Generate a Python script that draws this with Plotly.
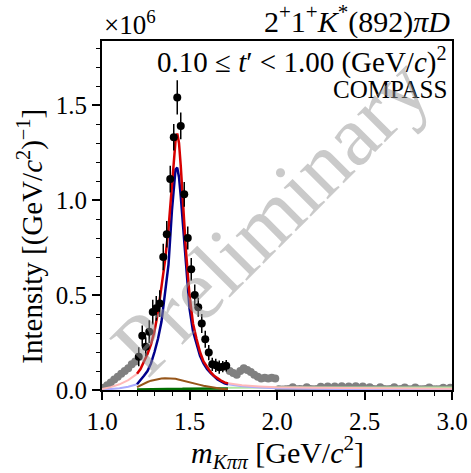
import plotly.graph_objects as go

# ---------------- data (units of 10^6) ----------------
mass_fit = [1.21, 1.23, 1.25, 1.27, 1.29, 1.31, 1.33, 1.35, 1.37, 1.39, 1.41, 1.43, 1.45,
            1.47, 1.49, 1.51, 1.53, 1.55, 1.57, 1.59, 1.61, 1.63, 1.65, 1.67, 1.69, 1.71]
intensity_fit = [0.175, 0.285, 0.228, 0.307, 0.41, 0.43, 0.455, 0.70, 0.82, 1.11, 1.33, 1.54, 1.39,
                 1.03, 0.80, 0.635, 0.50, 0.435, 0.35, 0.267, 0.197, 0.135, 0.13, 0.12, 0.123, 0.128]
error_fit = [0.05, 0.055, 0.05, 0.06, 0.065, 0.065, 0.07, 0.07, 0.07, 0.07, 0.07, 0.09, 0.07,
             0.065, 0.06, 0.06, 0.055, 0.05, 0.05, 0.045, 0.04, 0.035, 0.035, 0.035, 0.03, 0.03]

mass_low = [1.01, 1.03, 1.05, 1.07, 1.09, 1.11, 1.13, 1.15, 1.17, 1.19]
intensity_low = [0.012, 0.025, 0.04, 0.055, 0.07, 0.085, 0.10, 0.115, 0.135, 0.15]

mass_high = [1.73, 1.75, 1.77, 1.79, 1.81, 1.83, 1.85, 1.87, 1.89, 1.91, 1.93, 1.95, 1.97, 1.99,
             2.01, 2.03, 2.05, 2.07, 2.09, 2.11, 2.13, 2.15, 2.17, 2.19, 2.21, 2.23, 2.25, 2.27,
             2.29, 2.31, 2.33, 2.35, 2.37, 2.39, 2.41, 2.43, 2.45, 2.47, 2.49, 2.51, 2.53, 2.55,
             2.57, 2.59, 2.61, 2.63, 2.65, 2.67, 2.69, 2.71, 2.73, 2.75, 2.77, 2.79, 2.81, 2.83,
             2.85, 2.87, 2.89, 2.91, 2.93, 2.95, 2.97, 2.99]
intensity_high = [0.10, 0.09, 0.08, 0.10, 0.115, 0.105, 0.095, 0.08, 0.07, 0.06, 0.065, 0.06, 0.065, 0.06,
                  0.004, 0.003, 0.004, 0.005, 0.014, 0.004, 0.005, 0.004, 0.015, 0.005, 0.004, 0.005,
                  0.017, 0.006, 0.018, 0.006, 0.018, 0.007, 0.02, 0.006, 0.019, 0.007, 0.02, 0.006,
                  0.019, 0.006, 0.015, 0.005, 0.004, 0.014, 0.005, 0.004, 0.005, 0.014, 0.004, 0.005,
                  0.013, 0.004, 0.004, 0.013, 0.004, 0.004, 0.005, 0.013, 0.004, 0.004, 0.004, 0.012,
                  0.004, 0.012]

# model curves
curve_mass = [1.20, 1.22, 1.24, 1.26, 1.28, 1.30, 1.32, 1.34, 1.36, 1.38, 1.40, 1.41, 1.42, 1.43,
              1.44, 1.45, 1.46, 1.48, 1.50, 1.52, 1.54, 1.56, 1.58, 1.60, 1.62, 1.64, 1.66, 1.68,
              1.70, 1.72]
total_fit = [0.085, 0.11, 0.15, 0.19, 0.24, 0.31, 0.41, 0.54, 0.68, 0.85, 1.08, 1.20, 1.31, 1.35,
             1.30, 1.18, 1.02, 0.73, 0.50, 0.35, 0.27, 0.20, 0.15, 0.12, 0.095, 0.075, 0.06, 0.05,
             0.04, 0.035]
resonance_fit = [0.03, 0.05, 0.075, 0.10, 0.14, 0.20, 0.27, 0.36, 0.50, 0.66, 0.95, 1.08, 1.16, 1.17,
                 1.12, 1.02, 0.90, 0.62, 0.43, 0.31, 0.24, 0.18, 0.14, 0.11, 0.09, 0.07, 0.055,
                 0.045, 0.035, 0.03]
nonres_fit = [0.015, 0.025, 0.033, 0.042, 0.049, 0.054, 0.058, 0.061, 0.062, 0.062, 0.061, 0.06,
              0.059, 0.057, 0.055, 0.053, 0.051, 0.047, 0.043, 0.038, 0.033, 0.027, 0.022, 0.018,
              0.014, 0.011, 0.008, 0.006, 0.005, 0.004]
other_fit = [0.003, 0.003, 0.004, 0.004, 0.004, 0.005, 0.005, 0.005, 0.005, 0.006, 0.006, 0.006,
             0.006, 0.006, 0.006, 0.006, 0.006, 0.007, 0.007, 0.007, 0.007, 0.007, 0.008, 0.008,
             0.008, 0.008, 0.008, 0.008, 0.008, 0.008]

ext_low_mass = [1.00, 1.05, 1.10, 1.15, 1.20]
total_low = [0.005, 0.015, 0.03, 0.052, 0.085]
resonance_low = [0.001, 0.004, 0.009, 0.017, 0.03]
ext_high_mass = [1.72, 1.80, 1.90, 2.00, 2.20, 2.40, 2.60, 2.80, 3.00]
total_high = [0.035, 0.025, 0.019, 0.015, 0.012, 0.01, 0.009, 0.008, 0.007]
resonance_high = [0.03, 0.02, 0.013, 0.009, 0.006, 0.004, 0.003, 0.003, 0.002]
other_high = [0.012, 0.013, 0.013, 0.013, 0.013, 0.013, 0.013, 0.013, 0.013]

x_ticks = [1.0, 1.5, 2.0, 2.5, 3.0]
y_ticks = [0.0, 0.5, 1.0, 1.5]

SERIF = "Liberation Serif"
RED = "rgb(215,0,0)"
BLUE = "rgb(0,0,140)"
BROWN = "rgb(150,85,25)"
GREEN = "rgb(0,110,0)"

fig = go.Figure()

# grey points outside the fit range
fig.add_trace(go.Scatter(x=mass_low, y=intensity_low, mode="markers",
                         marker=dict(color="rgb(128,128,128)", size=8), showlegend=False))
fig.add_trace(go.Scatter(x=mass_high, y=intensity_high, mode="markers",
                         marker=dict(color="rgb(128,128,128)", size=8), showlegend=False))

# extrapolated (light) curves
fig.add_trace(go.Scatter(x=ext_high_mass, y=other_high, mode="lines",
                         line=dict(color="rgb(175,230,160)", width=2), showlegend=False))
fig.add_trace(go.Scatter(x=ext_low_mass, y=resonance_low, mode="lines",
                         line=dict(color="rgb(170,170,255)", width=2), showlegend=False))
fig.add_trace(go.Scatter(x=ext_high_mass, y=resonance_high, mode="lines",
                         line=dict(color="rgb(170,170,255)", width=2), showlegend=False))
fig.add_trace(go.Scatter(x=ext_low_mass, y=total_low, mode="lines",
                         line=dict(color="rgb(255,185,185)", width=2), showlegend=False))
fig.add_trace(go.Scatter(x=ext_high_mass, y=total_high, mode="lines",
                         line=dict(color="rgb(255,185,185)", width=2), showlegend=False))

# curves in fit range
fig.add_trace(go.Scatter(x=curve_mass, y=other_fit, mode="lines",
                         line=dict(color=GREEN, width=2.5), showlegend=False))
fig.add_trace(go.Scatter(x=curve_mass, y=nonres_fit, mode="lines",
                         line=dict(color=BROWN, width=2), showlegend=False))
fig.add_trace(go.Scatter(x=curve_mass, y=resonance_fit, mode="lines",
                         line=dict(color=BLUE, width=2.5), showlegend=False))
fig.add_trace(go.Scatter(x=curve_mass, y=total_fit, mode="lines",
                         line=dict(color=RED, width=2.5), showlegend=False))

# black data points in fit range
fig.add_trace(go.Scatter(x=mass_fit, y=intensity_fit, mode="markers",
                         marker=dict(color="black", size=8),
                         error_y=dict(type="data", array=error_fit, color="black",
                                      thickness=1.5, width=0),
                         showlegend=False))

axis_common = dict(showline=True, linecolor="black", linewidth=2, mirror=True,
                   ticks="outside", tickcolor="black", tickwidth=1.5, ticklen=8,
                   showgrid=False, zeroline=False, automargin=False,
                   tickfont=dict(family=SERIF, size=25, color="black"))

fig.update_xaxes(range=[1.0, 3.0], tickvals=x_ticks, tickformat=".1f",
                 minor=dict(dtick=0.1, ticks="outside", ticklen=4, tickwidth=1.2,
                            tickcolor="black", showgrid=False),
                 **axis_common)
fig.update_yaxes(range=[0.0, 1.837], tickvals=y_ticks, tickformat=".1f",
                 minor=dict(dtick=0.1, ticks="outside", ticklen=4, tickwidth=1.2,
                            tickcolor="black", showgrid=False),
                 **axis_common)

ann_font = dict(family=SERIF, color="black")
annotations = [
    dict(text="×10<sup>6</sup>", x=0.0, y=1.052, xanchor="left", yanchor="middle",
         font=dict(size=27, **ann_font)),
    dict(text="2<sup>+</sup>1<sup>+</sup><i>K</i><sup>*</sup>(892)<i>πD</i>", x=1.0, y=1.063,
         xanchor="right", yanchor="middle", font=dict(size=30, **ann_font)),
    dict(text="0.10 ≤ <i>t</i>′ < 1.00 (GeV/<i>c</i>)<sup>2</sup>", x=0.99, y=0.945,
         xanchor="right", yanchor="middle", font=dict(size=29, **ann_font)),
    dict(text="COMPASS", x=0.99, y=0.862, xanchor="right", yanchor="middle",
         font=dict(size=25, **ann_font)),
    dict(text="Intensity [(GeV/<i>c</i><sup>2</sup>)<sup>−1</sup>]", x=-0.205, y=0.44,
         xanchor="center", yanchor="middle", textangle=-90, font=dict(size=29, **ann_font)),
    dict(text="<i>m</i><sub><i>Kππ</i></sub> [GeV/<i>c</i><sup>2</sup>]", x=0.5, y=-0.18,
         xanchor="center", yanchor="middle", font=dict(size=30, **ann_font)),
    dict(text="Preliminary", x=0.48, y=0.50, xanchor="center", yanchor="middle",
         textangle=-45, font=dict(family=SERIF, size=86, color="rgba(150,150,150,0.5)")),
]
for a in annotations:
    a.update(xref="paper", yref="paper", showarrow=False)
fig.update_layout(annotations=annotations)

fig.update_layout(width=471, height=473, margin=dict(l=102, r=19, t=41, b=83, autoexpand=False),
                  paper_bgcolor="white", plot_bgcolor="white", showlegend=False)

fig.write_html("out.html")
